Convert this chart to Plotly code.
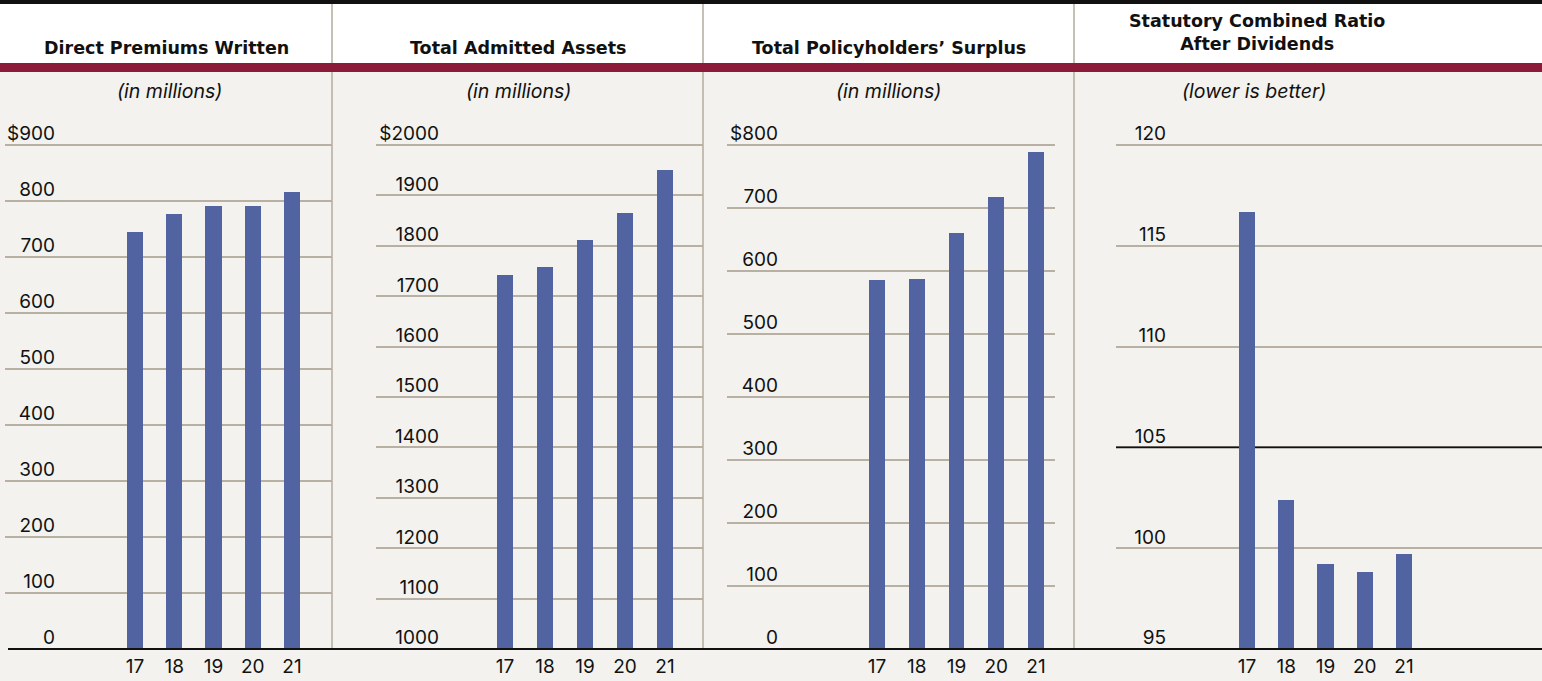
import plotly.graph_objects as go

# ---------------- data ----------------
years = [17, 18, 19, 20, 21]
year_labels = ["17", "18", "19", "20", "21"]

titles = ["Direct Premiums Written", "Total Admitted Assets",
          "Total Policyholders\u2019 Surplus", "Statutory Combined Ratio<br>After Dividends"]
subtitles = ["(in millions)", "(in millions)", "(in millions)", "(lower is better)"]

premiums = [745, 777, 791, 791, 816]
assets = [1742, 1758, 1812, 1866, 1951]
surplus = [585, 588, 660, 717, 789]
combined_ratio = [116.7, 102.4, 99.2, 98.8, 99.7]

ticks1 = [0, 100, 200, 300, 400, 500, 600, 700, 800, 900]
ticktext1 = ["0", "100", "200", "300", "400", "500", "600", "700", "800", "$900"]
ticks2 = [1000, 1100, 1200, 1300, 1400, 1500, 1600, 1700, 1800, 1900, 2000]
ticktext2 = ["1000", "1100", "1200", "1300", "1400", "1500", "1600", "1700", "1800", "1900", "$2000"]
ticks3 = [0, 100, 200, 300, 400, 500, 600, 700, 800]
ticktext3 = ["0", "100", "200", "300", "400", "500", "600", "700", "$800"]
ticks4 = [95, 100, 105, 110, 115, 120]
ticktext4 = ["95", "100", "105", "110", "115", "120"]
ref_line4 = 105

# ---------------- styling / layout ----------------
W, H = 1542, 681
BG = "#F3F2EE"
BAR = "#5163A0"
GRID = "#B8B0A3"
MAROON = "#8C1B3A"
FONT = "Inter"
TITLE_FONT = "DejaVu Sans"

def px_x(p):
    return p / W

def px_y(p):
    return (H - p) / H

series = [premiums, assets, surplus, combined_ratio]
ticks = [ticks1, ticks2, ticks3, ticks4]
ticktexts = [ticktext1, ticktext2, ticktext3, ticktext4]
xdomains_px = [(5, 332), (376, 703), (727, 1055), (1116, 1542)]
xranges = [[13.69, 22.02], [13.775, 21.95], [13.226, 21.478], [13.662, 24.516]]
label_right_px = [55, 439, 778, 1166]
title_cx_px = [166, 518, 889, 1257]
title_cy_px = [48, 48, 48, 32]
sub_cx_px = [169, 518, 889, 1254]
bar_widths = [0.41, 0.40, 0.40, 0.41]

# plot area: lowest tick sits on pixel row 649, highest tick on row 145;
# the axis domain reaches 4 px above the top tick so its gridline is kept
BOTTOM_PX, TOPTICK_PX, TOP_PX = 649, 145, 141
ydom = [px_y(BOTTOM_PX), px_y(TOP_PX)]

fig = go.Figure()
layout = dict(
    width=W, height=H,
    margin=dict(l=0, r=0, t=0, b=0, autoexpand=False),
    paper_bgcolor=BG, plot_bgcolor="rgba(0,0,0,0)",
    showlegend=False,
    font=dict(family=FONT, color="#111111", size=19),
    bargap=0,
)

for i in range(4):
    sfx = "" if i == 0 else str(i + 1)
    fig.add_trace(go.Bar(
        x=years, y=series[i], width=bar_widths[i],
        marker=dict(color=BAR, line=dict(width=0)),
        xaxis="x" + sfx, yaxis="y" + sfx, hoverinfo="x+y",
    ))
    d0, d1 = xdomains_px[i]
    v0, vt = ticks[i][0], ticks[i][-1]
    per_px = (vt - v0) / (BOTTOM_PX - TOPTICK_PX)
    yrange = [v0, vt + (TOPTICK_PX - TOP_PX) * per_px]
    layout["xaxis" + sfx] = dict(
        domain=[px_x(d0), px_x(d1)], range=xranges[i], anchor="y" + sfx,
        tickmode="array", tickvals=years, ticktext=year_labels,
        showgrid=False, zeroline=False, showline=False,
        ticks="", ticklabelstandoff=4,
        tickfont=dict(family=FONT, size=19, color="#111111"),
        fixedrange=True, automargin=False,
    )
    layout["yaxis" + sfx] = dict(
        domain=ydom, range=yrange, anchor="free",
        position=px_x(label_right_px[i]),
        tickmode="array", tickvals=ticks[i], ticktext=ticktexts[i],
        ticklabelposition="outside top", ticks="", ticklabelshift=2,
        showgrid=True, gridcolor=GRID, gridwidth=1.6,
        zeroline=False, showline=False,
        tickfont=dict(family=FONT, size=19, color="#111111"),
        fixedrange=True, automargin=False,
    )

fig.update_layout(**layout)

shapes = []
# white header band
shapes.append(dict(type="rect", xref="paper", yref="paper", x0=0, x1=1,
                   y0=px_y(63), y1=px_y(4), fillcolor="white", line=dict(width=0), layer="below"))
# vertical separators
for sx in [332, 703, 1074]:
    shapes.append(dict(type="line", xref="paper", yref="paper", x0=px_x(sx), x1=px_x(sx),
                       y0=px_y(650), y1=px_y(4), line=dict(color=GRID, width=1.6), layer="below"))
# maroon band
shapes.append(dict(type="rect", xref="paper", yref="paper", x0=0, x1=1,
                   y0=px_y(72), y1=px_y(63), fillcolor=MAROON, line=dict(width=0), layer="above"))
# top black rule
shapes.append(dict(type="rect", xref="paper", yref="paper", x0=0, x1=1,
                   y0=px_y(4), y1=1, fillcolor="#111111", line=dict(width=0), layer="above"))
# reference line at 105 in panel 4 (between gridlines and bars)
shapes.append(dict(type="line", xref="x4", yref="y4", x0=xranges[3][0], x1=xranges[3][1],
                   y0=ref_line4, y1=ref_line4, line=dict(color="#111111", width=1.6), layer="between"))
# bottom baseline
shapes.append(dict(type="line", xref="paper", yref="paper", x0=px_x(8), x1=1,
                   y0=px_y(649), y1=px_y(649), line=dict(color="#111111", width=2.2), layer="above"))
fig.update_layout(shapes=shapes)

ann = []
for i in range(4):
    ann.append(dict(text="<b>" + titles[i] + "</b>", x=px_x(title_cx_px[i]), y=px_y(title_cy_px[i]),
                    xref="paper", yref="paper", xanchor="center", yanchor="middle",
                    showarrow=False, font=dict(family=TITLE_FONT, size=17.5, color="#111111")))
for i in range(4):
    ann.append(dict(text="<i>" + subtitles[i] + "</i>", x=px_x(sub_cx_px[i]), y=px_y(91),
                    xref="paper", yref="paper", xanchor="center", yanchor="middle",
                    showarrow=False, font=dict(family=FONT, size=19.5, color="#111111")))
fig.update_layout(annotations=ann)

fig.write_html("out.html", config={"displayModeBar": False},
               post_script="document.body.style.margin='0';document.body.style.overflow='hidden';")
